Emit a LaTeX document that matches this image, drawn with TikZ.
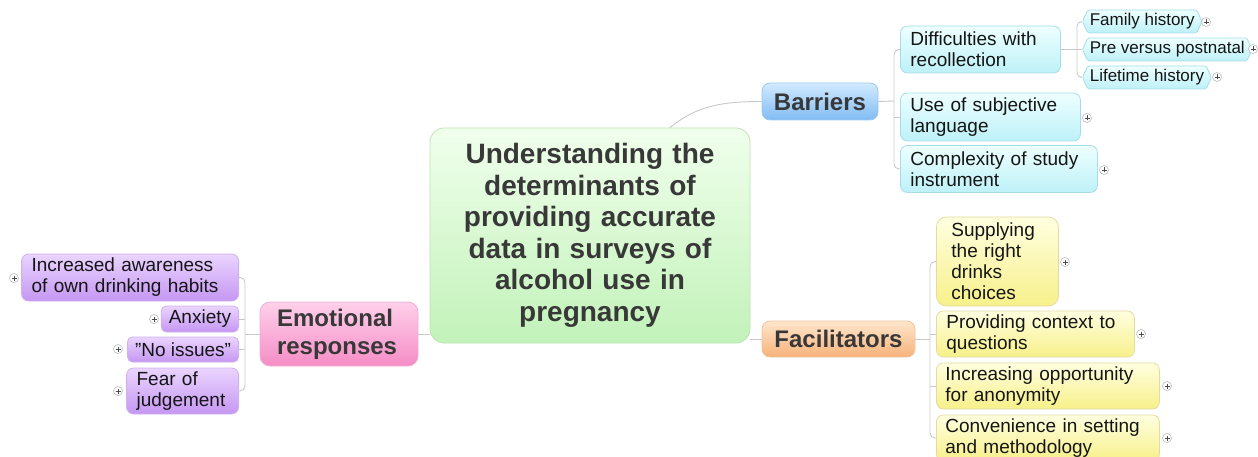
\documentclass[tikz,border=0pt]{standalone}
\usepackage{fontspec}
\setmainfont{Liberation Sans}[Ligatures=ResetAll]
\usetikzlibrary{shapes.symbols,calc}
\definecolor{cenT}{HTML}{F0FFEC}\definecolor{cenB}{HTML}{C2F2B9}\definecolor{cenD}{HTML}{BEE3B4}
\definecolor{barT}{HTML}{D2EAFF}\definecolor{barB}{HTML}{80BCF4}\definecolor{barD}{HTML}{9CC8EE}
\definecolor{facT}{HTML}{FFE6CC}\definecolor{facB}{HTML}{F6B27A}\definecolor{facD}{HTML}{EEC49E}
\definecolor{emoT}{HTML}{FFD0EA}\definecolor{emoB}{HTML}{F58DC6}\definecolor{emoD}{HTML}{EEB0D4}
\definecolor{purT}{HTML}{EAD4FF}\definecolor{purB}{HTML}{C597F2}\definecolor{purD}{HTML}{D0B0F0}
\definecolor{cyaT}{HTML}{EEFFFF}\definecolor{cyaB}{HTML}{BDF1F8}\definecolor{cyaD}{HTML}{A6DDE6}
\definecolor{yelT}{HTML}{FFFFE0}\definecolor{yelB}{HTML}{F7F08A}\definecolor{yelD}{HTML}{E3DCA0}
\definecolor{lineC}{HTML}{C8C8C8}
\definecolor{titC}{HTML}{383838}
\definecolor{txtC}{HTML}{151515}
\newcommand\fsubtxt{\fontsize{19}{21}\selectfont}
\newcommand\fleaftxt{\fontsize{17}{20}\selectfont}
\newcommand\fmaintxt{\fontsize{24}{28}\selectfont\bfseries}
\newcommand\ftitletxt{\fontsize{28}{31.5}\selectfont\bfseries}
\begin{document}
\begin{tikzpicture}[x=1pt,y=-1pt,
  box/.style={draw, line width=0.8pt, rounded corners=7pt, inner ysep=0pt, align=left, text=txtC, font=\fsubtxt},
  mainbox/.style={box, font=\fmaintxt, text=titC, rounded corners=8pt},
  cyabox/.style={box, draw=cyaD, top color=cyaT, bottom color=cyaB},
  yelbox/.style={box, draw=yelD, top color=yelT, bottom color=yelB},
  purbox/.style={box, draw=purD, top color=purT, bottom color=purB},
  leaf/.style={draw=cyaD, line width=0.8pt, top color=cyaT, bottom color=cyaB, signal, signal to=west and east, signal pointer angle=130, minimum height=23pt, inner xsep=2pt, inner ysep=0pt, font=\fleaftxt, text=txtC, rounded corners=1.5pt},
  conn/.style={draw=lineC, line width=0.9pt},
  rc/.style={rounded corners=5pt},
  plus/.style={circle, draw=gray!60, fill=white, line width=0.5pt, minimum size=9pt, inner sep=0pt,
    path picture={\draw[black!70, line width=0.7pt] ($(path picture bounding box.center)+(-2.5pt,0)$) -- ($(path picture bounding box.center)+(2.5pt,0)$) ($(path picture bounding box.center)+(0,-2.5pt)$) -- ($(path picture bounding box.center)+(0,2.5pt)$);}}
]
\useasboundingbox (0,0) rectangle (1258,457);

% central topic
\node[mainbox, draw=cenD, top color=cenT, bottom color=cenB, font=\ftitletxt, rounded corners=14pt,
  minimum width=320pt, minimum height=215pt, text width=300pt, align=center] (cen) at (590,235.5)
  {Understanding the\\determinants of\\providing accurate\\data in surveys of\\alcohol use in\\pregnancy};

% main branches
\node[mainbox, draw=barD, top color=barT, bottom color=barB, minimum width=116pt, minimum height=37pt, inner xsep=0pt, align=center] (bar) at (820,101.5) {Barriers};
\node[mainbox, draw=facD, top color=facT, bottom color=facB, minimum width=153pt, minimum height=36pt, inner xsep=0pt, align=center] (fac) at (838.5,339) {Facilitators};
\node[mainbox, draw=emoD, top color=emoT, bottom color=emoB, minimum height=64pt, text width=124pt, inner xsep=17pt, rounded corners=10pt] (emo) at (339,334) {Emotional\\responses};

% barriers children
\node[cyabox, anchor=west, text width=140pt, inner xsep=10pt, minimum height=47pt] (dif) at (900,49.5) {Difficulties with\\recollection};
\node[cyabox, anchor=west, text width=160pt, inner xsep=10pt, minimum height=48pt] (use) at (900,117) {Use of subjective\\language};
\node[cyabox, anchor=west, text width=177pt, inner xsep=10pt, minimum height=47pt] (cpx) at (900,169) {Complexity of study\\instrument};

% leaves
\node[leaf, anchor=west] (fam) at (1082,21.5) {Family history};
\node[leaf, anchor=west] (pre) at (1082,49.5) {Pre versus postnatal};
\node[leaf, anchor=west] (life) at (1082,77.5) {Lifetime history};

% facilitators children
\node[yelbox, anchor=west, text width=92pt, inner xsep=15pt, minimum height=89pt, rounded corners=10pt] (sup) at (936,261.5) {Supplying\\the right\\drinks\\choices};
\node[yelbox, anchor=west, text width=178pt, inner xsep=10pt, minimum height=46pt] (prov) at (936,334) {Providing context to\\questions};
\node[yelbox, anchor=west, text width=205pt, inner xsep=9pt, minimum height=46pt] (anon) at (936,386) {Increasing opportunity\\for anonymity};
\node[yelbox, anchor=west, text width=205pt, inner xsep=9pt, minimum height=46pt] (conv) at (936,438) {Convenience in setting\\and methodology};

% emotional children
\node[purbox, anchor=east, text width=197pt, inner xsep=10pt, minimum height=47pt] (awa) at (239,277.5) {Increased awareness\\of own drinking habits};
\node[purbox, anchor=east, inner xsep=7.5pt, minimum height=26pt, rounded corners=5pt] (anx) at (239,319) {Anxiety};
\node[purbox, anchor=east, inner xsep=7.5pt, minimum height=25pt, rounded corners=5pt] (noi) at (239,349.5) {"No issues"};
\node[purbox, anchor=east, text width=92pt, inner xsep=10pt, minimum height=46pt] (fear) at (239,391) {Fear of\\judgement};

% connectors from central topic
\draw[conn] ($(cen.north)+(80,0)$) .. controls +(25,-20) and +(-45,0) .. (bar.west);
\draw[conn] (cen.east |- fac.west) -- (fac.west);
\draw[conn] (emo.east) -- (cen.west |- emo.east);

% barriers bracket
\coordinate (bj) at (894,101);
\draw[conn] (bar.east) -- (bj);
\draw[conn, rc] (dif.west) -| (bj) |- (cpx.west);
\draw[conn] (use.west) -- (use.west -| bj);

% difficulties bracket
\coordinate (dj) at (1077,49.5);
\draw[conn] (dif.east) -- (dj);
\draw[conn, rc] (fam.west) -| (dj) |- (life.west);
\draw[conn] (pre.west) -- (dj);

% facilitators bracket
\coordinate (fj) at (930,339);
\draw[conn] (fac.east) -- (fj);
\draw[conn, rc] (sup.west) -| (fj) |- (conv.west);
\draw[conn] (prov.west) -- (prov.west -| fj);
\draw[conn] (anon.west) -- (anon.west -| fj);

% emotional bracket
\coordinate (ej) at (245,334);
\draw[conn] (emo.west) -- (ej);
\draw[conn, rc] (awa.east) -| (ej) |- (fear.east);
\draw[conn] (anx.east) -- (anx.east -| ej);
\draw[conn] (noi.east) -- (noi.east -| ej);

% collapse markers
\node[plus] (p1) at (1206,22) {};
\node[plus] (p2) at (1253,49) {};
\node[plus] (p3) at (1217,77) {};
\node[plus] (p4) at (1087,118) {};
\node[plus] (p5) at (1104,170) {};
\node[plus] (p6) at (1065,262) {};
\node[plus] (p7) at (1141,334) {};
\node[plus] (p8) at (1167,386) {};
\node[plus] (p9) at (1167,438) {};
\node[plus] (p10) at (14,278) {};
\node[plus] (p11) at (154,319) {};
\node[plus] (p12) at (118,349) {};
\node[plus] (p13) at (118,391) {};
\end{tikzpicture}
\end{document}
